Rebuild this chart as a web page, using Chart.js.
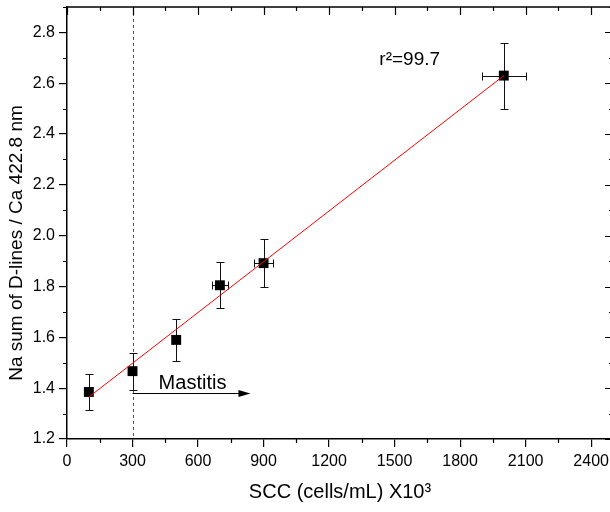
<!DOCTYPE html>
<html><head><meta charset="utf-8">
<script src="https://cdn.jsdelivr.net/npm/chart.js@4.4.1/dist/chart.umd.min.js"></script>
<style>html,body{margin:0;padding:0;overflow:hidden;background:#fff;width:610px;height:512px}canvas{display:block}</style>
</head><body>
<canvas id="c" width="620" height="512"></canvas>
<script>
// ---- data ----
const scc      = [100, 300, 500, 700, 900, 2000];
const sccErr   = [0, 0, 15, 35, 45, 100];
const ratio    = [1.385, 1.467, 1.590, 1.805, 1.892, 2.630];
const ratioErr = [0.069, 0.073, 0.082, 0.090, 0.095, 0.130];
const fitX = [100, 2000];
const fitY = [1.365, 2.630];
const xTicks = [0, 300, 600, 900, 1200, 1500, 1800, 2100, 2400];
const yTicks = [1.2, 1.4, 1.6, 1.8, 2.0, 2.2, 2.4, 2.6, 2.8];
const xRange = [0, 2500];
const yRange = [1.2, 2.9];
const threshold = 300;
const arrowX = [300, 840];
const arrowY = 1.38;
const arrowLabel = 'Mastitis';
const r2Label = 'r\u00B2=99.7';
const r2Pos = [1430, 2.673];
const xTitle = 'SCC (cells/mL) X10\u00B3';
const yTitle = 'Na sum of D-lines / Ca 422.8 nm';

const FONT = "'Liberation Sans', Arial, Helvetica, sans-serif";
Chart.defaults.font.family = FONT;
Chart.defaults.color = '#000';

function minors(ticks, max) {
  const step = ticks[1] - ticks[0];
  const out = [];
  for (let i = 0; i < ticks.length; i++) {
    const m = ticks[i] + step / 2;
    if (m <= max + 1e-9) out.push(m);
  }
  return out;
}

const extras = {
  id: 'extras',
  beforeDatasetsDraw(chart) {
    const {ctx, chartArea: a} = chart;
    const X = chart.scales.x, Y = chart.scales.y;
    ctx.save();
    ctx.strokeStyle = '#555'; ctx.lineWidth = 1; ctx.setLineDash([3, 3]);
    const tx = Math.round(X.getPixelForValue(threshold)) + 0.5;
    ctx.beginPath(); ctx.moveTo(tx, a.top); ctx.lineTo(tx, a.bottom); ctx.stroke();
    ctx.setLineDash([]);
    ctx.strokeStyle = '#111'; ctx.lineWidth = 1;
    for (let i = 0; i < scc.length; i++) {
      const cx = Math.round(X.getPixelForValue(scc[i])) + 0.5;
      const cy = Math.round(Y.getPixelForValue(ratio[i])) + 0.5;
      const yt = Math.round(Y.getPixelForValue(ratio[i] + ratioErr[i])) + 0.5;
      const yb = Math.round(Y.getPixelForValue(ratio[i] - ratioErr[i])) + 0.5;
      ctx.beginPath();
      ctx.moveTo(cx, yt); ctx.lineTo(cx, yb);
      ctx.moveTo(cx - 4, yt); ctx.lineTo(cx + 4, yt);
      ctx.moveTo(cx - 4, yb); ctx.lineTo(cx + 4, yb);
      if (sccErr[i] > 0) {
        const xl = Math.round(X.getPixelForValue(scc[i] - sccErr[i])) + 0.5;
        const xr = Math.round(X.getPixelForValue(scc[i] + sccErr[i])) + 0.5;
        ctx.moveTo(xl, cy); ctx.lineTo(xr, cy);
        ctx.moveTo(xl, cy - 4); ctx.lineTo(xl, cy + 4);
        ctx.moveTo(xr, cy - 4); ctx.lineTo(xr, cy + 4);
      }
      ctx.stroke();
    }
    ctx.restore();
  },
  afterDraw(chart) {
    const {ctx, chartArea: a} = chart;
    const X = chart.scales.x, Y = chart.scales.y;
    ctx.save();
    ctx.strokeStyle = '#000';
    ctx.lineWidth = 1.5;
    ctx.beginPath();
    ctx.moveTo(a.left, a.top); ctx.lineTo(a.right, a.top); ctx.lineTo(a.right, a.bottom);
    ctx.stroke();
    ctx.lineWidth = 1.2;
    ctx.beginPath();
    xTicks.forEach(v => { const p = Math.round(X.getPixelForValue(v)) + 0.5; ctx.moveTo(p, a.top); ctx.lineTo(p, a.top + 8); });
    yTicks.forEach(v => { const p = Math.round(Y.getPixelForValue(v)) + 0.5; ctx.moveTo(a.right, p); ctx.lineTo(a.right - 8, p); });
    minors(xTicks, xRange[1]).forEach(v => {
      const p = Math.round(X.getPixelForValue(v)) + 0.5;
      ctx.moveTo(p, a.bottom); ctx.lineTo(p, a.bottom + 4);
      ctx.moveTo(p, a.top); ctx.lineTo(p, a.top + 4);
    });
    minors(yTicks, yRange[1]).forEach(v => {
      const p = Math.round(Y.getPixelForValue(v)) + 0.5;
      ctx.moveTo(a.left, p); ctx.lineTo(a.left - 4, p);
      ctx.moveTo(a.right, p); ctx.lineTo(a.right - 4, p);
    });
    ctx.stroke();
    // arrow
    const ax0 = X.getPixelForValue(arrowX[0]), ax1 = X.getPixelForValue(arrowX[1]);
    const ay = Math.round(Y.getPixelForValue(arrowY)) + 0.5;
    ctx.lineWidth = 1;
    ctx.beginPath(); ctx.moveTo(ax0, ay); ctx.lineTo(ax1 - 8, ay); ctx.stroke();
    ctx.fillStyle = '#000';
    ctx.beginPath(); ctx.moveTo(ax1, ay); ctx.lineTo(ax1 - 12, ay - 3.5); ctx.lineTo(ax1 - 12, ay + 3.5); ctx.closePath(); ctx.fill();
    ctx.font = '20px ' + FONT;
    ctx.textAlign = 'center'; ctx.textBaseline = 'alphabetic';
    ctx.fillText(arrowLabel, (ax0 + ax1) / 2 + 1, ay - 5);
    ctx.font = '19px ' + FONT;
    ctx.textAlign = 'left';
    ctx.fillText(r2Label, X.getPixelForValue(r2Pos[0]), Y.getPixelForValue(r2Pos[1]));
    // y axis title
    ctx.font = '19px ' + FONT;
    ctx.textAlign = 'center'; ctx.textBaseline = 'middle';
    ctx.translate(17, (a.top + a.bottom) / 2 + 20);
    ctx.rotate(-Math.PI / 2);
    ctx.fillText(yTitle, 0, 0);
    ctx.restore();
  }
};

new Chart(document.getElementById('c'), {
  type: 'scatter',
  data: {
    datasets: [
      {
        type: 'line',
        data: fitX.map((x, i) => ({x, y: fitY[i]})),
        borderColor: '#ff0000', borderWidth: 1, pointRadius: 0, fill: false, tension: 0
      },
      {
        data: scc.map((x, i) => ({x, y: ratio[i]})),
        pointStyle: 'rect', pointRadius: 7, backgroundColor: '#000', borderColor: '#000', borderWidth: 0
      }
    ]
  },
  options: {
    responsive: false, animation: false,
    layout: {padding: {left: 0, top: 7, right: 7, bottom: 0}, autoPadding: false},
    plugins: {legend: {display: false}, tooltip: {enabled: false}},
    scales: {
      x: {
        type: 'linear', min: xRange[0], max: xRange[1],
        afterBuildTicks: s => { s.ticks = xTicks.map(v => ({value: v})); },
        afterFit: s => { s.height = 73; s.paddingLeft = 0; s.paddingRight = 0; },
        ticks: {font: {size: 16}, color: '#000', padding: 5, maxRotation: 0, autoSkip: false, callback: v => String(v)},
        grid: {drawOnChartArea: false, drawTicks: true, tickLength: 8, color: '#000', lineWidth: 1.2},
        border: {display: true, color: '#000', width: 1.5},
        title: {display: true, text: xTitle, font: {size: 20}, color: '#000', padding: {top: 0, bottom: 8}}
      },
      y: {
        type: 'linear', min: yRange[0], max: yRange[1],
        afterBuildTicks: s => { s.ticks = yTicks.map(v => ({value: v})); },
        afterFit: s => { s.width = 67; s.paddingTop = 0; s.paddingBottom = 0; },
        ticks: {font: {size: 16}, color: '#000', padding: 4, callback: v => v.toFixed(1)},
        grid: {drawOnChartArea: false, drawTicks: true, tickLength: 8, color: '#000', lineWidth: 1.2},
        border: {display: true, color: '#000', width: 1.5},
        title: {display: false}
      }
    }
  },
  plugins: [extras]
});
</script>
</body></html>
